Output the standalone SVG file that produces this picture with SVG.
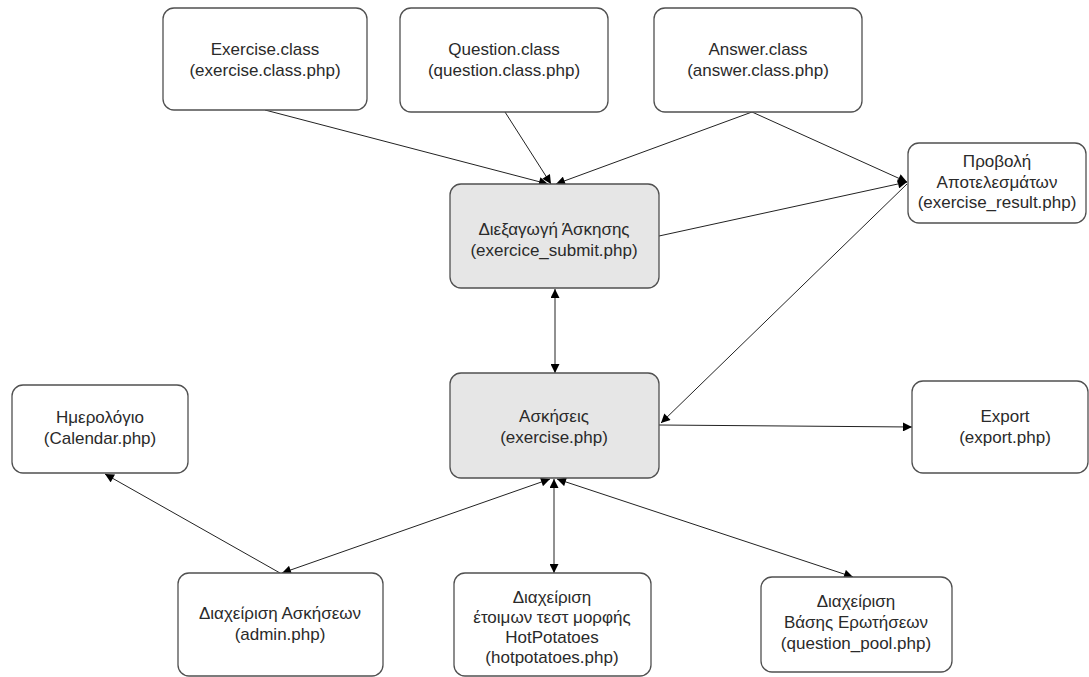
<svg xmlns="http://www.w3.org/2000/svg" width="1089" height="677" viewBox="0 0 1089 677">
<style>
.box{fill:#ffffff;stroke:#505050;stroke-width:1.3}
.gray{fill:#e6e6e6}
.t{font-family:"Liberation Sans",Arial,sans-serif;font-size:17px;fill:#2a2a2a;text-anchor:middle}
.c{stroke:#222;stroke-width:1;fill:none;marker-end:url(#ah)}
.d{marker-start:url(#ah)}
</style>
<defs>
<marker id="ah" viewBox="0 0 10 10" refX="10" refY="5" markerWidth="10" markerHeight="9" markerUnits="userSpaceOnUse" orient="auto-start-reverse">
<path d="M0,0 L10,5 L0,10 z" fill="#000"/>
</marker>
</defs>
<g id="connectors">
<line class="c" x1="265" y1="110" x2="548" y2="184"/>
<line class="c" x1="505" y1="112" x2="551" y2="184"/>
<line class="c" x1="752" y1="112" x2="556" y2="184"/>
<line class="c" x1="752" y1="112" x2="907" y2="182"/>
<line class="c" x1="659" y1="236" x2="907" y2="182"/>
<line class="c" x1="907" y1="184" x2="661" y2="423"/>
<line class="c d" x1="555" y1="289" x2="555" y2="373"/>
<line class="c" x1="659" y1="425" x2="912" y2="427"/>
<line class="c d" x1="550" y1="479" x2="282" y2="573"/>
<line class="c" x1="280" y1="573" x2="105" y2="474"/>
<line class="c d" x1="554" y1="479" x2="554" y2="573"/>
<line class="c d" x1="557" y1="479" x2="853" y2="577"/>
</g>
<g id="n-exercise-class"><rect class="box" x="163" y="8" width="204" height="102" rx="11"/><text class="t" x="265" y="55">Exercise.class</text><text class="t" x="265" y="76">(exercise.class.php)</text></g>
<g id="n-question-class"><rect class="box" x="400" y="8" width="208" height="104" rx="11"/><text class="t" x="504" y="55">Question.class</text><text class="t" x="504" y="76">(question.class.php)</text></g>
<g id="n-answer-class"><rect class="box" x="654" y="8" width="208" height="104" rx="11"/><text class="t" x="758" y="55">Answer.class</text><text class="t" x="758" y="76">(answer.class.php)</text></g>
<g id="n-result"><rect class="box" x="908" y="143" width="178" height="80" rx="11"/><text class="t" x="997" y="167">Προβολή</text><text class="t" x="997" y="188">Αποτελεσμάτων</text><text class="t" x="997" y="208">(exercise_result.php)</text></g>
<g id="n-submit"><rect class="box gray" x="450" y="184" width="209" height="104" rx="11"/><text class="t" x="554" y="235">Διεξαγωγή Άσκησης</text><text class="t" x="554" y="256">(exercice_submit.php)</text></g>
<g id="n-exercise"><rect class="box gray" x="450" y="373" width="209" height="105" rx="11"/><text class="t" x="554" y="422">Ασκήσεις</text><text class="t" x="554" y="443">(exercise.php)</text></g>
<g id="n-calendar"><rect class="box" x="12" y="385" width="176" height="88" rx="11"/><text class="t" x="100" y="423">Ημερολόγιο</text><text class="t" x="100" y="444">(Calendar.php)</text></g>
<g id="n-export"><rect class="box" x="912" y="381" width="176" height="92" rx="11"/><text class="t" x="1005" y="422">Export</text><text class="t" x="1005" y="443">(export.php)</text></g>
<g id="n-admin"><rect class="box" x="178" y="573" width="205" height="103" rx="11"/><text class="t" x="280" y="619">Διαχείριση Ασκήσεων</text><text class="t" x="280" y="640">(admin.php)</text></g>
<g id="n-hotpotatoes"><rect class="box" x="454" y="573" width="197" height="103" rx="11"/><text class="t" x="552" y="603">Διαχείριση</text><text class="t" x="552" y="623">έτοιμων τεστ μορφής</text><text class="t" x="552" y="643">HotPotatoes</text><text class="t" x="552" y="663">(hotpotatoes.php)</text></g>
<g id="n-pool"><rect class="box" x="761" y="577" width="191" height="95" rx="11"/><text class="t" x="856" y="607">Διαχείριση</text><text class="t" x="856" y="628">Βάσης Ερωτήσεων</text><text class="t" x="856" y="649">(question_pool.php)</text></g>
</svg>
